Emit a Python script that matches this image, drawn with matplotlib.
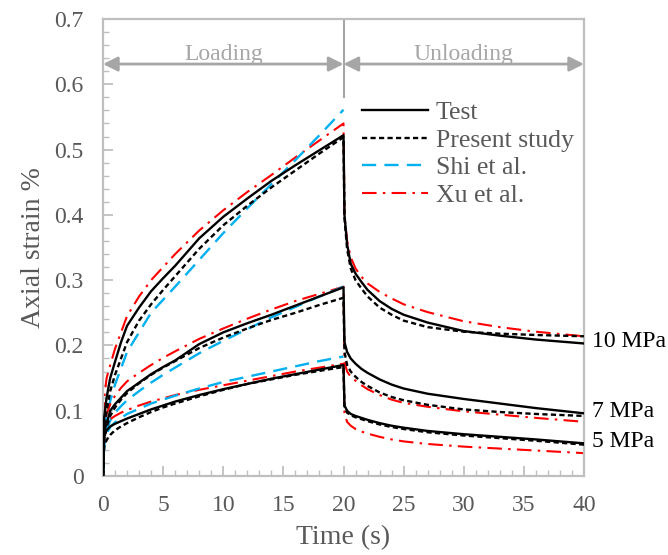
import matplotlib
matplotlib.use("Agg")
import matplotlib.pyplot as plt
from matplotlib.ticker import MultipleLocator, FuncFormatter

plt.rcParams["font.family"] = ["Liberation Serif", "DejaVu Serif"]

# Creep (loading) and recovery (unloading) time points, s
t_load = [0, 0.1, 0.3, 0.6, 1, 1.5, 2, 3, 4, 5, 6, 8, 10, 12, 14, 16, 18, 20]
t_unload = [20, 20.08, 20.3, 20.6, 21, 21.5, 22, 23, 24, 25, 27, 30, 33, 36, 40]

# Axial strain (%) at 10 MPa
test_10_load = [0, 0.09, 0.12, 0.15, 0.175, 0.205, 0.23, 0.258, 0.283, 0.303, 0.322, 0.364, 0.397, 0.425, 0.452, 0.476, 0.499, 0.522]
test_10_unload = [0.522, 0.40, 0.355, 0.325, 0.31, 0.297, 0.285, 0.268, 0.256, 0.247, 0.235, 0.222, 0.215, 0.209, 0.203]
present_10_load = [0, 0.07, 0.10, 0.13, 0.155, 0.18, 0.205, 0.238, 0.263, 0.285, 0.306, 0.348, 0.384, 0.414, 0.442, 0.468, 0.494, 0.519]
present_10_unload = [0.519, 0.395, 0.348, 0.318, 0.30, 0.287, 0.275, 0.258, 0.247, 0.238, 0.228, 0.221, 0.218, 0.216, 0.214]
shi_10_load = [0, 0.06, 0.09, 0.115, 0.14, 0.165, 0.19, 0.22, 0.25, 0.27, 0.29, 0.331, 0.372, 0.41, 0.447, 0.484, 0.522, 0.561]
xu_10_load = [0, 0.12, 0.15, 0.17, 0.195, 0.22, 0.245, 0.275, 0.30, 0.32, 0.34, 0.376, 0.407, 0.435, 0.461, 0.488, 0.514, 0.540]
xu_10_unload = [0.540, 0.40, 0.36, 0.335, 0.318, 0.305, 0.295, 0.282, 0.272, 0.263, 0.251, 0.237, 0.228, 0.221, 0.214]

# Axial strain (%) at 7 MPa
test_7_load = [0, 0.07, 0.08, 0.10, 0.11, 0.12, 0.13, 0.143, 0.156, 0.167, 0.177, 0.202, 0.22, 0.234, 0.247, 0.261, 0.275, 0.289]
test_7_unload = [0.289, 0.205, 0.19, 0.18, 0.172, 0.164, 0.158, 0.148, 0.14, 0.134, 0.126, 0.118, 0.111, 0.104, 0.096]
present_7_load = [0, 0.06, 0.075, 0.092, 0.105, 0.117, 0.127, 0.142, 0.155, 0.166, 0.176, 0.196, 0.212, 0.226, 0.239, 0.25, 0.262, 0.273]
present_7_unload = [0.273, 0.19, 0.17, 0.16, 0.152, 0.144, 0.138, 0.128, 0.121, 0.116, 0.109, 0.102, 0.098, 0.095, 0.092]
shi_7_load = [0, 0.05, 0.07, 0.085, 0.097, 0.107, 0.116, 0.13, 0.143, 0.155, 0.166, 0.188, 0.207, 0.225, 0.243, 0.259, 0.275, 0.29]
xu_7_load = [0, 0.08, 0.095, 0.11, 0.123, 0.135, 0.145, 0.158, 0.17, 0.181, 0.191, 0.21, 0.226, 0.241, 0.255, 0.268, 0.279, 0.29]
xu_7_unload = [0.29, 0.175, 0.16, 0.152, 0.146, 0.139, 0.133, 0.124, 0.117, 0.112, 0.106, 0.099, 0.094, 0.089, 0.083]

# Axial strain (%) at 5 MPa
test_5_load = [0, 0.06, 0.07, 0.076, 0.08, 0.084, 0.088, 0.095, 0.102, 0.108, 0.114, 0.124, 0.133, 0.141, 0.149, 0.156, 0.163, 0.17]
test_5_unload = [0.17, 0.108, 0.10, 0.095, 0.092, 0.089, 0.086, 0.081, 0.077, 0.074, 0.069, 0.064, 0.06, 0.056, 0.05]
present_5_load = [0, 0.045, 0.055, 0.063, 0.07, 0.076, 0.081, 0.09, 0.098, 0.105, 0.111, 0.122, 0.132, 0.141, 0.148, 0.155, 0.161, 0.167]
present_5_unload = [0.167, 0.105, 0.097, 0.093, 0.09, 0.087, 0.084, 0.079, 0.075, 0.072, 0.067, 0.062, 0.058, 0.054, 0.048]
shi_5_load = [0, 0.05, 0.065, 0.075, 0.082, 0.089, 0.095, 0.103, 0.111, 0.117, 0.123, 0.134, 0.144, 0.152, 0.16, 0.168, 0.176, 0.183]
xu_5_load = [0, 0.07, 0.08, 0.087, 0.092, 0.097, 0.101, 0.108, 0.114, 0.119, 0.124, 0.132, 0.139, 0.146, 0.153, 0.16, 0.166, 0.172]
xu_5_unload = [0.172, 0.095, 0.083, 0.077, 0.072, 0.068, 0.065, 0.06, 0.056, 0.053, 0.049, 0.045, 0.042, 0.039, 0.035]

stress_labels = ["10 MPa", "7 MPa", "5 MPa"]
phase_labels = ["Loading", "Unloading"]

GREY = "#A6A6A6"
SPINE = "#BFBFBF"
TEXT = "#595959"

styles = {
    "test": dict(color="black", lw=1.7, ls="-"),
    "present": dict(color="black", lw=1.7, ls=(0, (2.2, 1.4))),
    "shi": dict(color="#00B0F0", lw=1.7, ls=(0, (6, 3.5))),
    "xu": dict(color="#FF0000", lw=1.5, ls=(0, (7, 3, 1.2, 3))),
}

fig = plt.figure(figsize=(6.68, 5.55), dpi=100)
ax = fig.add_axes([103 / 668, 1 - 476 / 555, 481 / 668, 457 / 555])

groups = [
    (test_10_load, test_10_unload, present_10_load, present_10_unload, shi_10_load, xu_10_load, xu_10_unload),
    (test_7_load, test_7_unload, present_7_load, present_7_unload, shi_7_load, xu_7_load, xu_7_unload),
    (test_5_load, test_5_unload, present_5_load, present_5_unload, shi_5_load, xu_5_load, xu_5_unload),
]

for i, (tl, tu, pl, pu, sl, xl, xu) in enumerate(groups):
    lab = i == 0
    ax.plot(t_load + t_unload[1:], xl + xu[1:], label="Xu et al." if lab else None, zorder=2, **styles["xu"])
    ax.plot(t_load, sl, label="Shi et al." if lab else None, zorder=2, **styles["shi"])
    ax.plot(t_load + t_unload[1:], pl + pu[1:], label="Present study" if lab else None, zorder=3, **styles["present"])
    ax.plot(t_load + t_unload[1:], tl + tu[1:], label="Test" if lab else None, zorder=4, **styles["test"])
    ax.text(40.7, tu[-1] + 0.003, stress_labels[i], fontsize=17, color="black",
            ha="left", va="center", clip_on=False)

ax.set_xlim(0, 40)
ax.set_ylim(0, 0.7)

# phase arrows and divider
ax.plot([20, 20], [0.58, 0.7], color=GREY, lw=1.5, zorder=1)
arrow_y = 0.631
for (x0, x1), name in zip([(0, 20), (20, 40)], phase_labels):
    ax.annotate("", xy=(x0, arrow_y), xytext=(x1, arrow_y),
                arrowprops=dict(arrowstyle="<|-|>", color=GREY, lw=2,
                                mutation_scale=22, shrinkA=0, shrinkB=0))
    ax.text((x0 + x1) / 2, 0.646, name, fontsize=17, color=GREY,
            ha="center", va="center")

ax.xaxis.set_major_locator(MultipleLocator(5))
ax.xaxis.set_minor_locator(MultipleLocator(1))
ax.yaxis.set_major_locator(MultipleLocator(0.1))
ax.yaxis.set_minor_locator(MultipleLocator(0.02))
ax.yaxis.set_major_formatter(FuncFormatter(lambda v, p: "0" if abs(v) < 1e-9 else f"{v:.1f}"))

ax.tick_params(which="both", direction="in", color=SPINE, labelcolor=TEXT, labelsize=17)
ax.tick_params(which="major", length=7, width=1.3)
ax.tick_params(which="minor", length=4, width=1.0)
ax.tick_params(axis="y", which="major", pad=14)
ax.tick_params(axis="x", which="major", pad=14)

for s in ax.spines.values():
    s.set_color(SPINE)
    s.set_linewidth(1.6)

ax.set_xlabel("Time (s)", fontsize=20, color=TEXT, labelpad=6)
ax.set_ylabel("Axial strain %", fontsize=20, color=TEXT, labelpad=6)

handles, labels = ax.get_legend_handles_labels()
order = [labels.index(n) for n in ["Test", "Present study", "Shi et al.", "Xu et al."]]
leg = ax.legend([handles[k] for k in order], [labels[k] for k in order],
                loc="upper left", bbox_to_anchor=(0.538, 0.82), frameon=False,
                fontsize=18.5, handlelength=2.57, handletextpad=0.31,
                labelspacing=0.18, borderpad=0, borderaxespad=0)
for txt in leg.get_texts():
    txt.set_color(TEXT)

fig.savefig("out.png", dpi=100)
